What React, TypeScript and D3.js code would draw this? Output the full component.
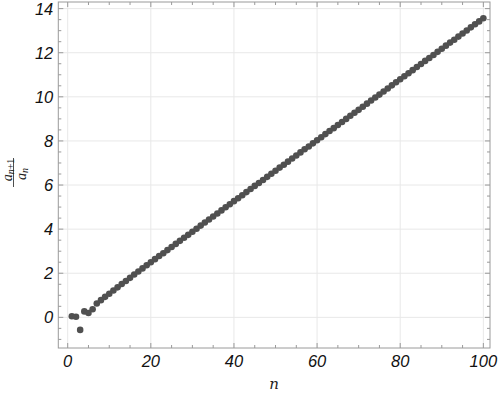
import * as d3 from "d3";

// n = 1..100, ratio a(n+1)/a(n)
const nValues = d3.range(1, 101);
const ratioValues = [
  0.05, 0.03, -0.57, 0.27, 0.2, 0.37, 0.63, 0.78, 0.93, 1.07,
  1.22, 1.36, 1.51, 1.65, 1.79, 1.94, 2.08, 2.22, 2.36, 2.5,
  2.64, 2.78, 2.91, 3.05, 3.19, 3.33, 3.47, 3.61, 3.74, 3.88,
  4.02, 4.16, 4.3, 4.44, 4.57, 4.71, 4.85, 4.99, 5.13, 5.27,
  5.4, 5.54, 5.68, 5.82, 5.96, 6.09, 6.23, 6.37, 6.51, 6.65,
  6.79, 6.92, 7.06, 7.2, 7.34, 7.48, 7.62, 7.75, 7.89, 8.03,
  8.17, 8.31, 8.45, 8.58, 8.72, 8.86, 9.0, 9.14, 9.28, 9.41,
  9.55, 9.69, 9.83, 9.97, 10.1, 10.24, 10.38, 10.52, 10.66, 10.8,
  10.93, 11.07, 11.21, 11.35, 11.49, 11.63, 11.76, 11.9, 12.04, 12.18,
  12.32, 12.46, 12.59, 12.73, 12.87, 13.01, 13.15, 13.29, 13.42, 13.56,
];
const xTicks = [0, 20, 40, 60, 80, 100];
const yTicks = [0, 2, 4, 6, 8, 10, 12, 14];

const W = 498;
const H = 401;
const left = 58.3, right = 490, top = 2, bottom = 348;

export default function App() {
  const x = d3.scaleLinear().domain([-2.26, 101.6]).range([left, right]);
  const y = d3.scaleLinear().domain([-1.39, 14.3]).range([bottom, top]);

  const xMinor = d3.range(0, 101, 5).filter(v => v % 20 !== 0);
  const yMinor = d3.range(-1, 14.3, 0.5).filter(v => v % 2 !== 0);
  const frame = "#9a9a9a";
  const grid = "#e8e8e8";
  const labelFont = "'Liberation Sans', Arial, sans-serif";
  const pts = nValues.map((n, i) => ({ n, r: ratioValues[i] }));

  return (
    <div style={{ position: "absolute", left: 0, top: 0 }}>
      <svg width={W} height={H} style={{ display: "block", background: "#fff" }}>
        {/* grid */}
        {xTicks.map(t => (
          <line key={"gx" + t} x1={x(t)} x2={x(t)} y1={top} y2={bottom} stroke={grid} />
        ))}
        {yTicks.map(t => (
          <line key={"gy" + t} x1={left} x2={right} y1={y(t)} y2={y(t)} stroke={grid} />
        ))}

        {/* points */}
        <g fill="#505050">
          {pts.map(p => (
            <circle key={p.n} cx={x(p.n)} cy={y(p.r)} r={3.3} />
          ))}
        </g>

        {/* frame */}
        <rect x={left} y={top} width={right - left} height={bottom - top} fill="none" stroke={frame} />

        {/* ticks */}
        <g stroke={frame}>
          {xTicks.map(t => (
            <g key={"xt" + t}>
              <line x1={x(t)} x2={x(t)} y1={bottom} y2={bottom - 5} />
              <line x1={x(t)} x2={x(t)} y1={top} y2={top + 5} />
            </g>
          ))}
          {xMinor.map(t => (
            <g key={"xm" + t}>
              <line x1={x(t)} x2={x(t)} y1={bottom} y2={bottom - 3} />
              <line x1={x(t)} x2={x(t)} y1={top} y2={top + 3} />
            </g>
          ))}
          {yTicks.map(t => (
            <g key={"yt" + t}>
              <line x1={left} x2={left + 5} y1={y(t)} y2={y(t)} />
              <line x1={right} x2={right - 5} y1={y(t)} y2={y(t)} />
            </g>
          ))}
          {yMinor.map(t => (
            <g key={"ym" + t}>
              <line x1={left} x2={left + 3} y1={y(t)} y2={y(t)} />
              <line x1={right} x2={right - 3} y1={y(t)} y2={y(t)} />
            </g>
          ))}
        </g>

        {/* tick labels */}
        <g fontFamily={labelFont} fontStyle="italic" fontSize={16.5} fill="#111">
          {xTicks.map(t => (
            <text key={"xl" + t} x={x(t)} y={bottom + 19} textAnchor="middle">{t}</text>
          ))}
          {yTicks.map(t => (
            <text key={"yl" + t} x={left - 5} y={y(t) + 6} textAnchor="end">{t}</text>
          ))}
        </g>

        {/* axis labels */}
        <text x={(left + right) / 2} y={389} textAnchor="middle" fontFamily="'DejaVu Serif', 'Liberation Serif', serif" fontStyle="italic" fontSize={15} fill="#222">n</text>
        <g transform={`translate(13.5,173) rotate(-90)`} fontFamily="'Liberation Serif', serif" fill="#222">
          <text x={3} y={-2} textAnchor="middle" fontSize={14}>
            <tspan fontStyle="italic">a</tspan>
            <tspan fontSize={10} dy={2.5} fontStyle="italic">n</tspan>
            <tspan fontSize={10}>+1</tspan>
          </text>
          <line x1={-14} x2={15} y1={0} y2={0} stroke="#222" strokeWidth={0.8} />
          <text x={-1} y={12} textAnchor="middle" fontSize={14}>
            <tspan fontStyle="italic">a</tspan>
            <tspan fontSize={10} dy={2.5} fontStyle="italic">n</tspan>
          </text>
        </g>
      </svg>
    </div>
  );
}
